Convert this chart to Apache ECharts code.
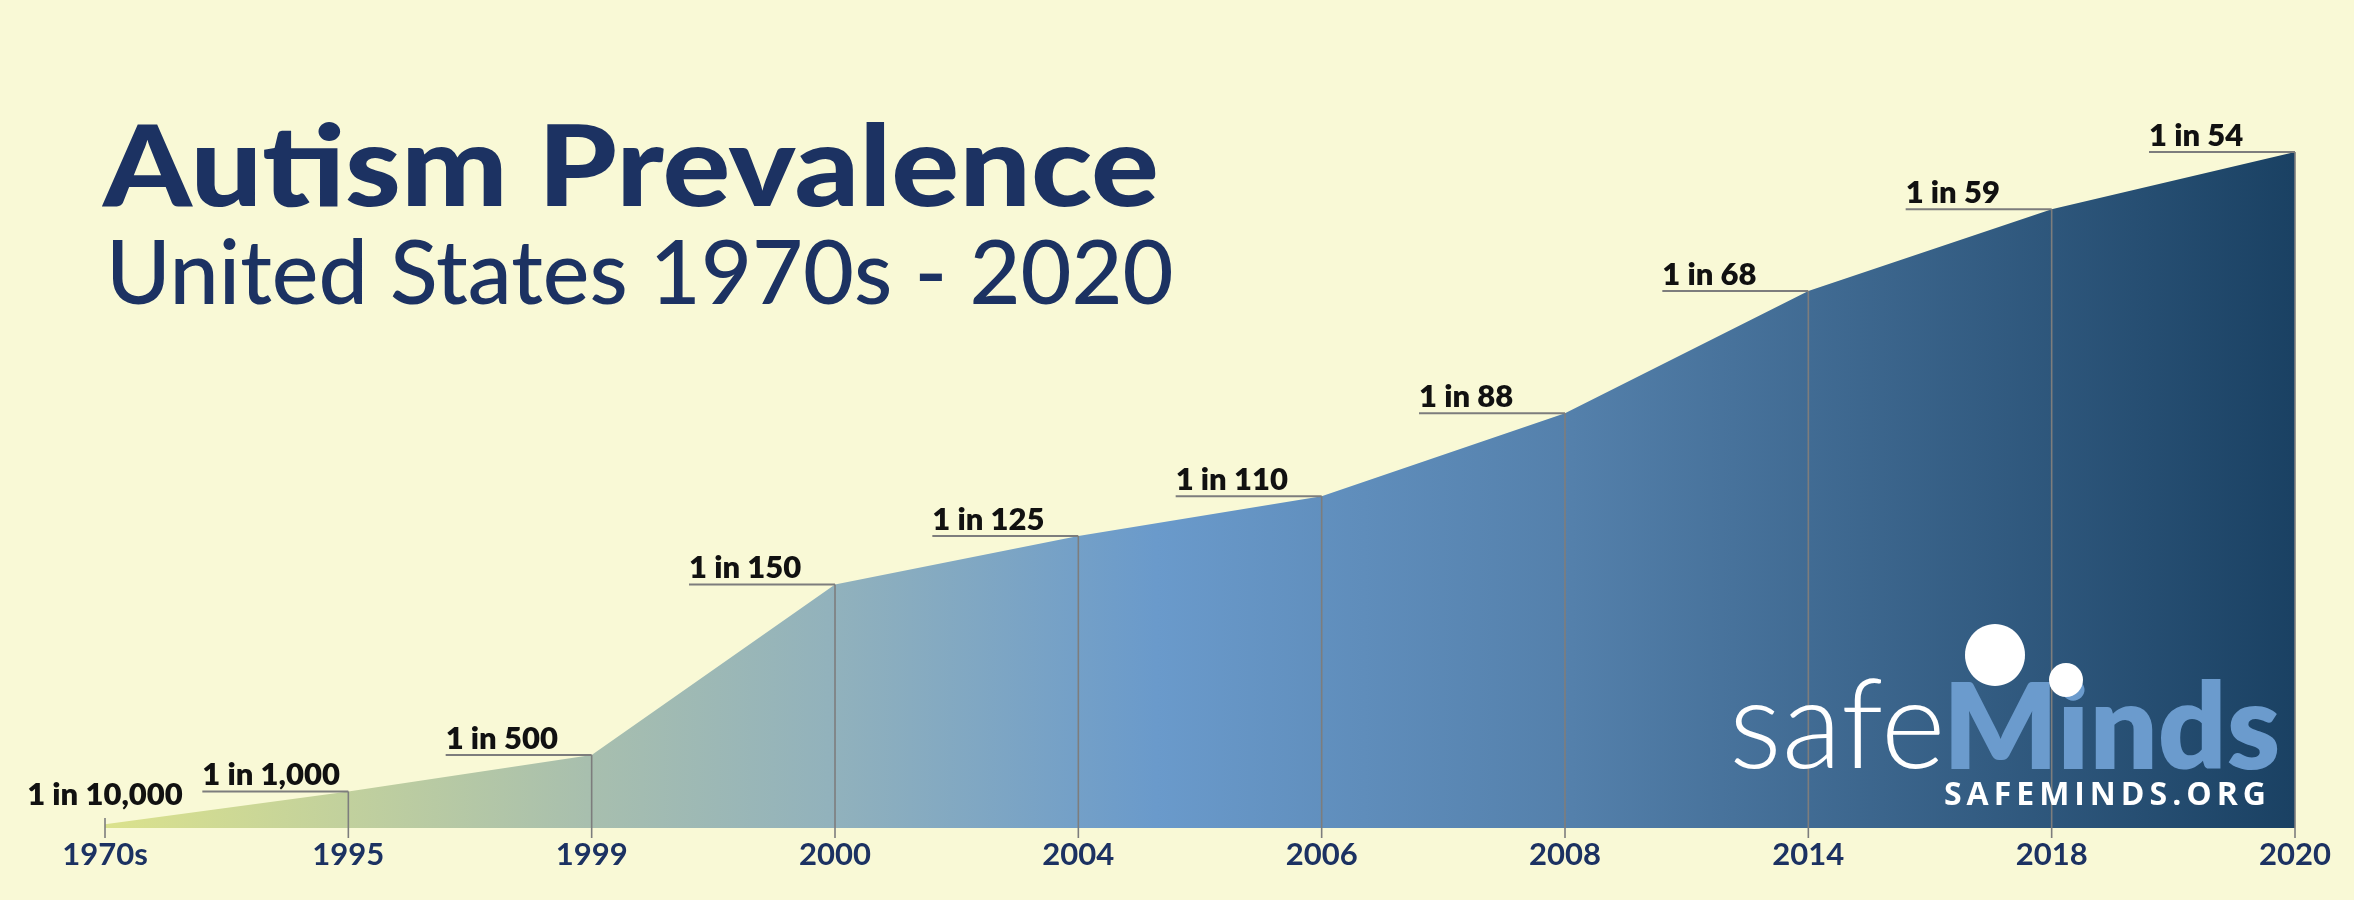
<!DOCTYPE html>
<html>
<head>
<meta charset="utf-8">
<title>Autism Prevalence</title>
<script src="https://cdn.jsdelivr.net/npm/echarts@6/dist/echarts.min.js"></script>
<style>
  html, body { margin: 0; padding: 0; background: #f9f9d6; }
  #main { width: 2354px; height: 900px; }
</style>
</head>
<body>
<div id="main"></div>
<script>
// years on the x axis
var years = ['1970s', '1995', '1999', '2000', '2004', '2006', '2008', '2014', '2018', '2020'];
// prevalence in percent (1 in N)
var prevalence = [0.01, 0.1, 0.2, 0.667, 0.8, 0.909, 1.136, 1.471, 1.695, 1.852];
// labels written over each point
var ratioLabels = ['1 in 10,000', '1 in 1,000', '1 in 500', '1 in 150', '1 in 125', '1 in 110', '1 in 88', '1 in 68', '1 in 59', '1 in 54'];

var navy = '#1c3262';
var grey = '#7d7d7d';

var chart = echarts.init(document.getElementById('main'));

// points for the label series
var labelData = [];
for (var i = 0; i < years.length; i++) {
  labelData.push([i, prevalence[i]]);
}

// spaced-out url under the logo, one letter at a time
function spacedText(str, font, left, bottom, width) {
  var ctx = document.createElement('canvas').getContext('2d');
  ctx.font = font;
  var sum = 0, ws = [];
  for (var k = 0; k < str.length; k++) {
    ws.push(ctx.measureText(str[k]).width);
    sum += ws[k];
  }
  var gap = (width - sum) / (str.length - 1);
  var out = [], cur = left;
  for (var k = 0; k < str.length; k++) {
    out.push({ type: 'text', z: 20, style: { x: cur, y: bottom, text: str[k], verticalAlign: 'bottom',
      font: font, fill: '#ffffff' } });
    cur += ws[k] + gap;
  }
  return out;
}

var graphics = [
  // titles
  { type: 'text', x: 103, y: 226, scaleX: 1.13, style: { x: 0, y: 0, text: 'Autism Prevalence', verticalAlign: 'bottom',
      font: '900 112px Lato', fill: navy } },
  { type: 'text', style: { x: 106, y: 320, text: 'United States 1970s - 2020', verticalAlign: 'bottom',
      font: '500 88px Lato', fill: navy } },
  // logo
  { type: 'text', z: 20, style: { x: 1729, y: 790, text: 'safe', verticalAlign: 'bottom',
      font: '300 124px Lato', fill: '#ffffff' } },
  { type: 'text', z: 20, style: { x: 1943, y: 790, text: 'Minds', verticalAlign: 'bottom',
      font: '800 120px Lato', fill: '#6b9bcd' } },
  { type: 'ellipse', z: 21, shape: { cx: 1995, cy: 655, rx: 30, ry: 31 }, style: { fill: '#ffffff' } },
  { type: 'circle', z: 21, shape: { cx: 2066, cy: 680, r: 17 }, style: { fill: '#ffffff' } }
].concat(spacedText('SAFEMINDS.ORG', 'bold 32px "Open Sans"', 1944, 812, 322));

var option = {
  backgroundColor: '#f9f9d6',
  animation: false,
  grid: { left: 105, right: 59, top: 98, bottom: 72 },
  xAxis: {
    type: 'category',
    data: years,
    boundaryGap: false,
    axisLine: { show: false },
    axisTick: { show: false },
    axisLabel: {
      color: navy,
      fontFamily: 'Lato',
      fontWeight: 'bold',
      fontSize: 31,
      margin: 11
    }
  },
  yAxis: {
    type: 'value',
    min: 0,
    max: 2,
    show: false
  },
  graphic: graphics,
  series: [
    {
      type: 'line',
      data: prevalence,
      symbol: 'none',
      lineStyle: { width: 0 },
      areaStyle: {
        opacity: 1,
        color: new echarts.graphic.LinearGradient(0, 0, 1, 0, [
          { offset: 0, color: '#dbe28c' },
          { offset: 0.22, color: '#a8bfae' },
          { offset: 0.33, color: '#92b2bc' },
          { offset: 0.48, color: '#6a9acb' },
          { offset: 0.67, color: '#5480ab' },
          { offset: 1, color: '#1a4163' }
        ])
      },
      z: 2
    },
    {
      type: 'custom',
      data: labelData,
      z: 5,
      renderItem: function (params, api) {
        var idx = params.dataIndex;
        var p = api.coord([api.value(0), api.value(1)]);
        var base = api.coord([api.value(0), 0]);
        var top = Math.min(p[1], base[1] - 10);
        var kids = [{
          type: 'line',
          shape: { x1: p[0], y1: top, x2: p[0], y2: base[1] + 10 },
          style: { stroke: grey, lineWidth: 1.6 }
        }];
        if (idx === 0) {
          kids.push({
            type: 'text',
            style: { x: p[0], y: p[1] - 14, text: ratioLabels[idx], align: 'center', verticalAlign: 'bottom',
              font: '800 31px Lato', fill: '#111111' }
          });
        } else {
          kids.push({
            type: 'line',
            shape: { x1: p[0] - 146, y1: p[1], x2: p[0], y2: p[1] },
            style: { stroke: grey, lineWidth: 2 }
          });
          kids.push({
            type: 'text',
            style: { x: p[0] - 146, y: p[1] - 1, text: ratioLabels[idx], align: 'left', verticalAlign: 'bottom',
              font: '800 31px Lato', fill: '#111111' }
          });
        }
        return { type: 'group', children: kids };
      }
    }
  ]
};

chart.setOption(option);
</script>
</body>
</html>
